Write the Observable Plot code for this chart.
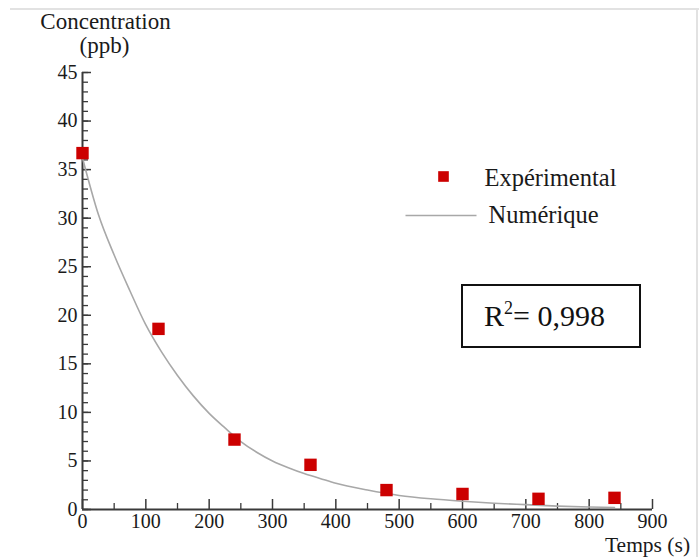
<!DOCTYPE html>
<html>
<head>
<meta charset="utf-8">
<script src="https://cdn.jsdelivr.net/npm/d3@7"></script>
<script src="https://cdn.jsdelivr.net/npm/@observablehq/plot@0.6"></script>
<style>
  html, body { margin: 0; padding: 0; background: #fff; }
  #wrap { position: relative; width: 699px; height: 557px; overflow: hidden; font-family: "Liberation Serif", "Times New Roman", serif; }
  #topline { position: absolute; left: 10px; right: 0; top: 8px; height: 2px; background: #e2e2e2; }
  #rightline { position: absolute; left: 696px; top: 8px; bottom: 0; width: 2px; background: #e2e2e2; }
  #r2 { position: absolute; left: 461px; top: 284px; width: 176px; height: 60px; border: 2px solid #111;
        font-size: 30px; line-height: 60px; box-sizing: content-box; color: #111; }
  #r2 span.t { position: absolute; left: 21px; top: 0px; white-space: nowrap; }
  #r2 sup { font-size: 18px; vertical-align: 0; position: relative; top: -12px; }
</style>
</head>
<body>
<div id="wrap">
  <div id="topline"></div>
  <div id="rightline"></div>
  <div id="chart"></div>
  <div id="r2"><span class="t">R<sup>2</sup>= 0,998</span></div>
</div>
<script>
// Experimental measurements (time in s, concentration in ppb)
const expTime = [0, 120, 240, 360, 480, 600, 720, 840];
const expConc = [36.7, 18.6, 7.2, 4.6, 2.0, 1.6, 1.1, 1.2];

// Numerical curve
const numTime = [0, 25, 50, 75, 100, 125, 150, 175, 200, 225, 250, 275, 300, 325, 350, 375, 400, 450, 500, 550, 600, 650, 700, 750, 800, 840];
const numConc = [36.2, 30.4, 26.2, 22.5, 19.0, 16.2, 13.8, 11.7, 9.9, 8.4, 7.0, 5.9, 5.0, 4.3, 3.7, 3.2, 2.7, 2.0, 1.45, 1.1, 0.85, 0.65, 0.5, 0.35, 0.25, 0.2];

// Axis ticks
const yMajor = [0, 5, 10, 15, 20, 25, 30, 35, 40, 45];
const yMinor = d3.range(0, 46, 1);
const xMajor = [0, 100, 200, 300, 400, 500, 600, 700, 800, 900];
const xMinor = [50, 150, 250, 350, 450, 550, 650, 750, 850];

const experimental = expTime.map((t, i) => ({t, c: expConc[i]}));
const numerical = numTime.map((t, i) => ({t, c: numConc[i]}));

const font = '"Liberation Serif", "Times New Roman", serif';
const axisColor = "#3a3a3a";
const textColor = "#1a1a1a";
const red = "#cc0000";
const grey = "#a8a8a8";

const hLine = { draw(ctx) { ctx.moveTo(-35.5, 0); ctx.lineTo(35.5, 0); } };

const plot = Plot.plot({
  width: 699,
  height: 557,
  marginLeft: 82,
  marginRight: 47,
  marginTop: 72,
  marginBottom: 48,
  style: { fontFamily: font, fontSize: "20px", color: textColor, background: "transparent", overflow: "visible" },
  x: { domain: [0, 900] },
  y: { domain: [0, 45] },
  marks: [
    Plot.ruleX([0], { stroke: axisColor, strokeWidth: 2 }),
    Plot.ruleY([0], { stroke: axisColor, strokeWidth: 2 }),
    Plot.axisY({ ticks: yMinor, tickSize: -6, tickFormat: () => "", stroke: axisColor, strokeWidth: 1.3, label: null }),
    Plot.axisY({ ticks: yMajor, tickSize: -9, tickPadding: 14, stroke: axisColor, strokeWidth: 1.5, fontSize: 20, label: null }),
    Plot.axisX({ ticks: xMinor, tickSize: -6, tickFormat: () => "", stroke: axisColor, strokeWidth: 1.3, label: null }),
    Plot.axisX({ ticks: xMajor, tickSize: -10, tickPadding: 14, stroke: axisColor, strokeWidth: 1.5, fontSize: 20, label: null }),
    Plot.line(numerical, { x: "t", y: "c", stroke: grey, strokeWidth: 1.6, curve: "monotone-x" }),
    Plot.dot(experimental, { x: "t", y: "c", symbol: "square", r: 7, fill: red, stroke: null }),
    // Axis titles
    Plot.text(["Concentration"], { frameAnchor: "top-left", dx: 23, dy: -44, lineAnchor: "bottom", textAnchor: "middle", fontSize: 23, fill: textColor }),
    Plot.text(["(ppb)"], { frameAnchor: "top-left", dx: 22, dy: -20, lineAnchor: "bottom", textAnchor: "middle", fontSize: 23, fill: textColor }),
    Plot.text(["Temps (s)"], { frameAnchor: "bottom-right", dx: -5, dy: 42, lineAnchor: "bottom", textAnchor: "middle", fontSize: 21.5, fill: textColor }),
    // Legend
    Plot.dot([0], { frameAnchor: "top-left", dx: 361, dy: 104, symbol: "square", r: 6, fill: red, stroke: null }),
    Plot.text(["Expérimental"], { frameAnchor: "top-left", dx: 402, dy: 113, lineAnchor: "bottom", textAnchor: "start", fontSize: 24.5, fill: textColor }),
    Plot.dot([0], { frameAnchor: "top-left", dx: 358.5, dy: 143, symbol: hLine, r: 5, fill: "none", stroke: grey, strokeWidth: 1.6 }),
    Plot.text(["Numérique"], { frameAnchor: "top-left", dx: 406, dy: 150, lineAnchor: "bottom", textAnchor: "start", fontSize: 24.5, fill: textColor })
  ]
});
document.getElementById("chart").appendChild(plot);
</script>
</body>
</html>
